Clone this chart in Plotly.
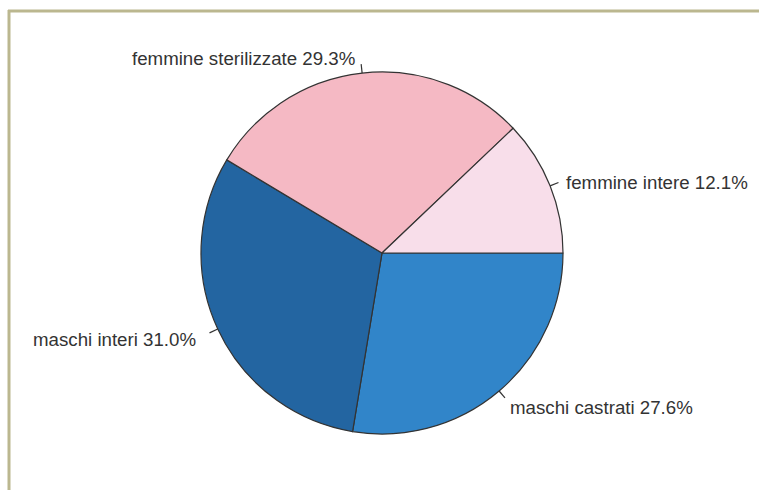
import math
import plotly.graph_objects as go

# dati (ordine R: antiorario dalle ore 3)
labels = ["femmine intere", "femmine sterilizzate", "maschi interi", "maschi castrati"]
values = [12.1, 29.3, 31.0, 27.6]
colors = ["#F8DEEA", "#F5B9C4", "#2365A1", "#3185C9"]

W, H = 759, 490
CX, CY, R = 382, 253, 181      # centro e raggio della torta (pixel)
FRAME = "#BBB78F"

# plotly in senso orario dalle ore 3 con ordine invertito == R antiorario
fig = go.Figure(go.Pie(
    labels=labels[::-1],
    values=values[::-1],
    sort=False,
    direction="clockwise",
    rotation=90,
    marker=dict(colors=colors[::-1], line=dict(color="#333333", width=1.2)),
    textinfo="none",
    hoverinfo="label+percent",
    showlegend=False,
    domain=dict(x=[(CX - R) / W, (CX + R) / W], y=[1 - (CY + R) / H, 1 - (CY - R) / H]),
))

# etichette in stile R: segmento da r a 1.05r, testo a 1.1r
total = sum(values)
cum = 0
for lab, v in zip(labels, values):
    mid = (cum + v / 2) / total * 2 * math.pi
    cum += v
    c, s = math.cos(mid), math.sin(mid)
    fig.add_shape(type="line", xref="paper", yref="paper",
                  x0=(CX + R * c) / W, y0=1 - (CY - R * s) / H,
                  x1=(CX + 1.05 * R * c) / W, y1=1 - (CY - 1.05 * R * s) / H,
                  line=dict(color="#333333", width=1.2))
    fig.add_annotation(xref="paper", yref="paper",
                       x=(CX + 1.1 * R * c) / W, y=1 - (CY - 1.1 * R * s) / H,
                       text=f"{lab} {v:.1f}%", showarrow=False,
                       xanchor="left" if c > 0 else "right", yanchor="middle",
                       xshift=-3, yshift=-3,
                       font=dict(size=18.7, color="#333333"))

# cornice (alto e sinistra)
fig.add_shape(type="line", xref="paper", yref="paper", x0=8 / W, x1=1, y0=1 - 11 / H, y1=1 - 11 / H,
              line=dict(color=FRAME, width=3))
fig.add_shape(type="line", xref="paper", yref="paper", x0=9 / W, x1=9 / W, y0=0, y1=1 - 10 / H,
              line=dict(color=FRAME, width=3))

fig.update_layout(
    width=W, height=H,
    margin=dict(l=0, r=0, t=0, b=0),
    paper_bgcolor="white",
    plot_bgcolor="white",
    font=dict(family="Liberation Sans, Arial, sans-serif"),
)

fig.write_html("out.html", config={"displayModeBar": False},
               post_script="document.body.style.margin='0';")
